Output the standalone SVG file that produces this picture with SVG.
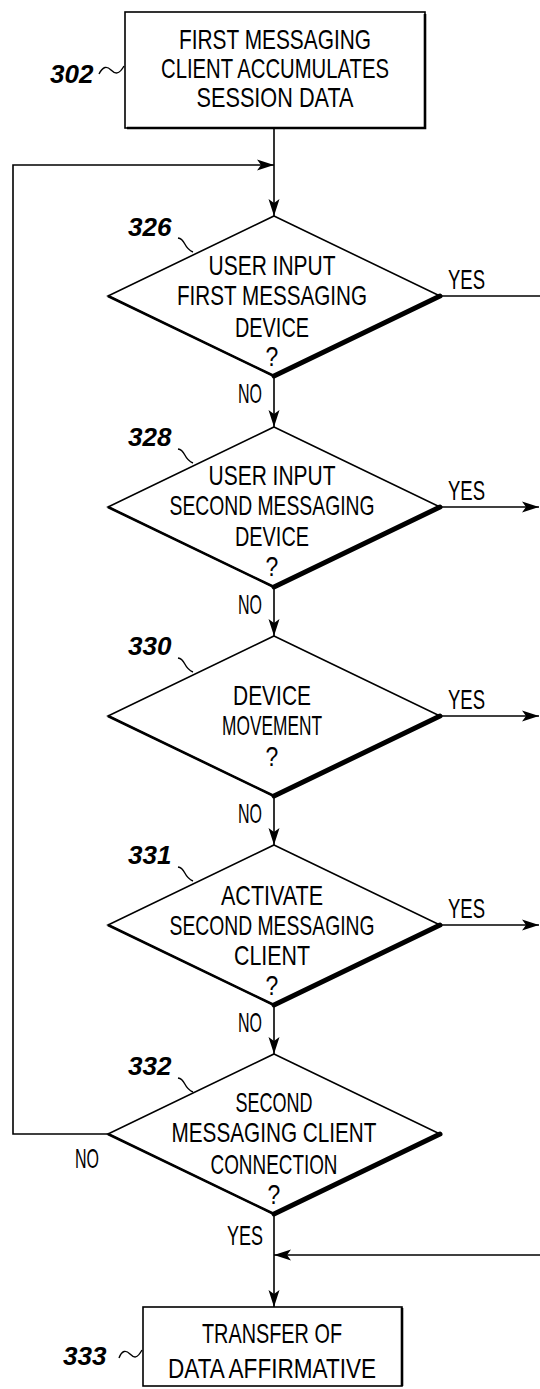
<svg xmlns="http://www.w3.org/2000/svg" width="540" height="1389" viewBox="0 0 540 1389">
<defs>
<marker id="ah" markerUnits="userSpaceOnUse" markerWidth="18" markerHeight="12" refX="17" refY="6" orient="auto">
<path d="M0,0.5 L17,6 L0,11.5 L4,6 Z" fill="#000"/>
</marker>
</defs>
<style>
.t{font-family:"Liberation Sans",Arial,sans-serif;font-size:23px;fill:#000;text-anchor:middle}
.l{font-family:"Liberation Sans",Arial,sans-serif;font-size:23px;fill:#000}
.n{font-family:"Liberation Sans",Arial,sans-serif;font-size:26px;font-weight:bold;font-style:italic;fill:#000}
.s{fill:#fff;stroke:#000;stroke-width:1.6}
.th{fill:none;stroke:#000;stroke-width:5;stroke-linecap:round}
.md{fill:none;stroke:#000;stroke-width:2.6}
.c{fill:none;stroke:#000;stroke-width:1.6}
.ld{fill:none;stroke:#000;stroke-width:1.4}
</style>
<rect width="540" height="1389" fill="#fff"/>

<g id="connectors">
<line class="c" x1="274" y1="128" x2="274" y2="216" marker-end="url(#ah)"/>
<polyline class="c" points="108,1134 13,1134 13,165 274,165" marker-end="url(#ah)"/>
<line class="c" x1="274" y1="376" x2="274" y2="427" marker-end="url(#ah)"/>
<line class="c" x1="274" y1="587" x2="274" y2="636" marker-end="url(#ah)"/>
<line class="c" x1="274" y1="796" x2="274" y2="845" marker-end="url(#ah)"/>
<line class="c" x1="274" y1="1005" x2="274" y2="1054" marker-end="url(#ah)"/>
<line class="c" x1="274" y1="1214" x2="274" y2="1307" marker-end="url(#ah)"/>
<line class="c" x1="440" y1="296" x2="540" y2="296"/>
<line class="c" x1="440" y1="507" x2="539" y2="507" marker-end="url(#ah)"/>
<line class="c" x1="440" y1="716" x2="539" y2="716" marker-end="url(#ah)"/>
<line class="c" x1="440" y1="925" x2="539" y2="925" marker-end="url(#ah)"/>
<line class="c" x1="540" y1="1255" x2="274" y2="1255" marker-end="url(#ah)"/>
<text class="l" transform="translate(448,289) scale(1,1.2)" textLength="37" lengthAdjust="spacingAndGlyphs">YES</text>
<text class="l" transform="translate(448,500) scale(1,1.2)" textLength="37" lengthAdjust="spacingAndGlyphs">YES</text>
<text class="l" transform="translate(448,709) scale(1,1.2)" textLength="37" lengthAdjust="spacingAndGlyphs">YES</text>
<text class="l" transform="translate(448,918) scale(1,1.2)" textLength="37" lengthAdjust="spacingAndGlyphs">YES</text>
<text class="l" transform="translate(238,403) scale(1,1.2)" textLength="24" lengthAdjust="spacingAndGlyphs">NO</text>
<text class="l" transform="translate(238,614) scale(1,1.2)" textLength="24" lengthAdjust="spacingAndGlyphs">NO</text>
<text class="l" transform="translate(238,823) scale(1,1.2)" textLength="24" lengthAdjust="spacingAndGlyphs">NO</text>
<text class="l" transform="translate(238,1032) scale(1,1.2)" textLength="24" lengthAdjust="spacingAndGlyphs">NO</text>
<text class="l" transform="translate(75,1168) scale(1,1.2)" textLength="24" lengthAdjust="spacingAndGlyphs">NO</text>
<text class="l" transform="translate(227,1245) scale(1,1.2)" textLength="36" lengthAdjust="spacingAndGlyphs">YES</text>
</g>

<g id="n302">
<rect class="s" x="125" y="12" width="300" height="116"/>
<polyline class="md" points="425,14 425,128 127,128"/>
<text class="t" transform="translate(275,49) scale(1,1.2)" textLength="192" lengthAdjust="spacingAndGlyphs">FIRST MESSAGING</text>
<text class="t" transform="translate(275,78) scale(1,1.2)" textLength="228" lengthAdjust="spacingAndGlyphs">CLIENT ACCUMULATES</text>
<text class="t" transform="translate(275,107) scale(1,1.2)" textLength="157" lengthAdjust="spacingAndGlyphs">SESSION DATA</text>
<text class="n" x="50" y="83">302</text>
<path class="ld" d="M99,74 C103,66 107,66 111,70 S119,75 124,66"/>
</g>

<g id="n326">
<polygon class="s" points="274,216 440,296 274,376 108,296"/>
<line class="md" x1="108" y1="296" x2="274" y2="376"/>
<line class="th" x1="440" y1="296" x2="274" y2="376"/>
<text class="t" transform="translate(272,275) scale(1,1.2)" textLength="127" lengthAdjust="spacingAndGlyphs">USER INPUT</text>
<text class="t" transform="translate(272,305) scale(1,1.2)" textLength="190" lengthAdjust="spacingAndGlyphs">FIRST MESSAGING</text>
<text class="t" transform="translate(272,337) scale(1,1.2)" textLength="74" lengthAdjust="spacingAndGlyphs">DEVICE</text>
<text class="t" transform="translate(272,366) scale(1,1.2)">?</text>
<text class="n" x="128" y="236">326</text>
<path class="ld" d="M178,238 C186,239 183,248 193,252"/>
</g>

<g id="n328">
<polygon class="s" points="274,427 440,507 274,587 108,507"/>
<line class="md" x1="108" y1="507" x2="274" y2="587"/>
<line class="th" x1="440" y1="507" x2="274" y2="587"/>
<text class="t" transform="translate(272,485) scale(1,1.2)" textLength="127" lengthAdjust="spacingAndGlyphs">USER INPUT</text>
<text class="t" transform="translate(272,515) scale(1,1.2)" textLength="205" lengthAdjust="spacingAndGlyphs">SECOND MESSAGING</text>
<text class="t" transform="translate(272,546) scale(1,1.2)" textLength="74" lengthAdjust="spacingAndGlyphs">DEVICE</text>
<text class="t" transform="translate(272,576) scale(1,1.2)">?</text>
<text class="n" x="128" y="446">328</text>
<path class="ld" d="M178,449 C186,450 183,459 193,463"/>
</g>

<g id="n330">
<polygon class="s" points="274,636 440,716 274,796 108,716"/>
<line class="md" x1="108" y1="716" x2="274" y2="796"/>
<line class="th" x1="440" y1="716" x2="274" y2="796"/>
<text class="t" transform="translate(272,705) scale(1,1.2)" textLength="78" lengthAdjust="spacingAndGlyphs">DEVICE</text>
<text class="t" transform="translate(272,735) scale(1,1.2)" textLength="100" lengthAdjust="spacingAndGlyphs">MOVEMENT</text>
<text class="t" transform="translate(272,766) scale(1,1.2)">?</text>
<text class="n" x="128" y="655">330</text>
<path class="ld" d="M178,658 C186,659 183,668 193,672"/>
</g>

<g id="n331">
<polygon class="s" points="274,845 440,925 274,1005 108,925"/>
<line class="md" x1="108" y1="925" x2="274" y2="1005"/>
<line class="th" x1="440" y1="925" x2="274" y2="1005"/>
<text class="t" transform="translate(272,905) scale(1,1.2)" textLength="102" lengthAdjust="spacingAndGlyphs">ACTIVATE</text>
<text class="t" transform="translate(272,935) scale(1,1.2)" textLength="205" lengthAdjust="spacingAndGlyphs">SECOND MESSAGING</text>
<text class="t" transform="translate(272,965) scale(1,1.2)" textLength="76" lengthAdjust="spacingAndGlyphs">CLIENT</text>
<text class="t" transform="translate(272,995) scale(1,1.2)">?</text>
<text class="n" x="128" y="864">331</text>
<path class="ld" d="M178,867 C186,868 183,877 193,881"/>
</g>

<g id="n332">
<polygon class="s" points="274,1054 440,1134 274,1214 108,1134"/>
<line class="md" x1="108" y1="1134" x2="274" y2="1214"/>
<line class="th" x1="440" y1="1134" x2="274" y2="1214"/>
<text class="t" transform="translate(274,1112) scale(1,1.2)" textLength="77" lengthAdjust="spacingAndGlyphs">SECOND</text>
<text class="t" transform="translate(274,1142) scale(1,1.2)" textLength="205" lengthAdjust="spacingAndGlyphs">MESSAGING CLIENT</text>
<text class="t" transform="translate(274,1174) scale(1,1.2)" textLength="127" lengthAdjust="spacingAndGlyphs">CONNECTION</text>
<text class="t" transform="translate(274,1204) scale(1,1.2)">?</text>
<text class="n" x="128" y="1075">332</text>
<path class="ld" d="M178,1078 C186,1079 183,1088 193,1092"/>
</g>

<g id="n333">
<rect class="s" x="143" y="1307" width="259" height="79"/>
<line class="md" x1="402" y1="1308" x2="402" y2="1386"/>
<text class="t" transform="translate(272,1343) scale(1,1.2)" textLength="140" lengthAdjust="spacingAndGlyphs">TRANSFER OF</text>
<text class="t" transform="translate(272,1378) scale(1,1.2)" textLength="208" lengthAdjust="spacingAndGlyphs">DATA AFFIRMATIVE</text>
<text class="n" x="63" y="1365">333</text>
<path class="ld" d="M119,1358 C122,1350 126,1350 130,1354 S137,1359 142,1350"/>
</g>
</svg>
